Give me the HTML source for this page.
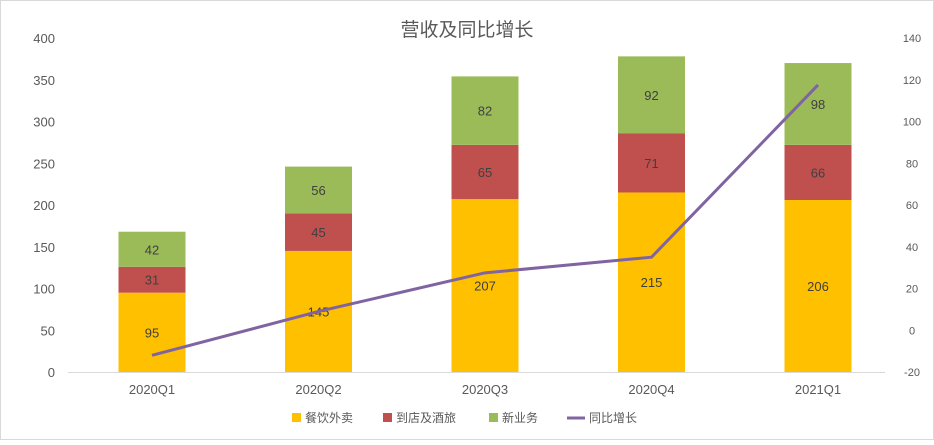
<!DOCTYPE html>
<html><head><meta charset="utf-8"><style>
body{margin:0;background:#fff;font-family:"Liberation Sans","Noto Sans CJK SC",sans-serif}
svg text{font-family:"Liberation Sans","Noto Sans CJK SC",sans-serif}
</style></head><body>
<svg id="chart" width="934" height="440">
<rect x="0.5" y="0.5" width="933" height="439" fill="#fff" stroke="#d9d9d9"/>
<text x="467" y="36" text-anchor="middle" font-size="19" fill="#595959">营收及同比增长</text>
<g id="g"></g>
</svg>
<script>
const categories=["2020Q1","2020Q2","2020Q3","2020Q4","2021Q1"];
const food=[95,145,207,215,206];
const travel=[31,45,65,71,66];
const newBiz=[42,56,82,92,98];
const growth=[-12,9,27.5,35,117.5];
const leftTicks=[0,50,100,150,200,250,300,350,400];
const rightTicks=[-20,0,20,40,60,80,100,120,140];
const NS="http://www.w3.org/2000/svg";
const g=document.getElementById('g');
const x0=68.75,x1=901.25,yB=372,yT=38;
const yL=v=>yB-(v/400)*(yB-yT);
const yR=v=>yB-((v+20)/160)*(yB-yT);
const step=(x1-x0)/categories.length;
const xC=i=>x0+step*(i+0.5);
const bw=67;
function mk(t,a){const e=document.createElementNS(NS,t);for(const k in a)e.setAttribute(k,a[k]);g.appendChild(e);return e;}
leftTicks.forEach(v=>{const t=mk('text',{x:55,y:yL(v)+5,'text-anchor':'end','font-size':13,fill:'#595959'});t.textContent=v;

});
rightTicks.forEach(v=>{const t=mk('text',{x:912,y:yR(v)+4,'text-anchor':'middle','font-size':11,fill:'#595959'});t.textContent=v;

});
const ax=mk('line',{x1:68,x2:885,y1:yB+0.5,y2:yB+0.5,stroke:'#d9d9d9'});


const series=[[food,'#ffc000','food'],[travel,'#c0504d','travel'],[newBiz,'#9bbb59','new-business']];
categories.forEach((c,i)=>{
 let base=0;
 series.forEach(([arr,col,nm])=>{
  const v=arr[i];
  const r=mk('rect',{x:xC(i)-bw/2,y:yL(base+v),width:bw,height:yL(base)-yL(base+v),fill:col});
  
  
  const t=mk('text',{x:xC(i),y:(yL(base)+yL(base+v))/2+5,'text-anchor':'middle','font-size':13,fill:'#404040'});
  t.textContent=v;
  
  
  base+=v;
 });
 const t=mk('text',{x:xC(i),y:yB+22,'text-anchor':'middle','font-size':13,fill:'#595959'});t.textContent=c;
 
 
});
const pl=mk('polyline',{points:growth.map((v,i)=>xC(i)+','+yR(v)).join(' '),fill:'none',stroke:'#8064a2','stroke-width':3,'stroke-linejoin':'round'});


const leg=[['餐饮外卖','#ffc000',292],['到店及酒旅','#c0504d',383],['新业务','#9bbb59',489],['同比增长','#8064a2',567]];
leg.forEach(([n,c,x],k)=>{
 if(k<3){const r=mk('rect',{x:x,y:413,width:9,height:9,fill:c});}
 else{const l=mk('line',{x1:x,x2:x+18,y1:418,y2:418,stroke:c,'stroke-width':3});}
 const t=mk('text',{x:x+(k<3?13:22),y:422,'font-size':12,fill:'#595959'});t.textContent=n;
 
 
});
</script>
</body></html>
